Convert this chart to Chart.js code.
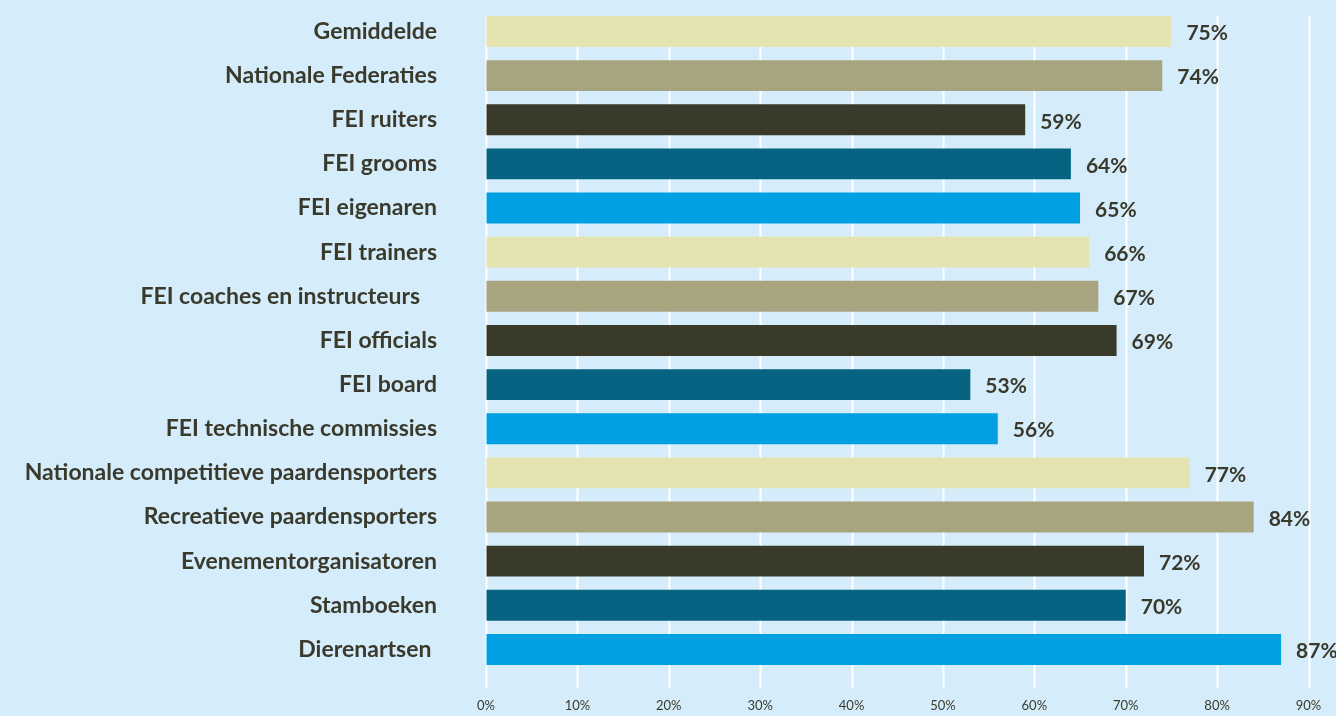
<!DOCTYPE html>
<html>
<head>
<meta charset="utf-8">
<script src="https://cdn.jsdelivr.net/npm/chart.js@4"></script>
<style>
  html, body { margin: 0; padding: 0; background: #d5ecfb; }
  canvas { display: block; }
</style>
</head>
<body>
<canvas id="chart" width="1336" height="716"></canvas>
<script>
// Data
const categories = [
  'Gemiddelde',
  'Nationale Federaties',
  'FEI ruiters',
  'FEI grooms',
  'FEI eigenaren',
  'FEI trainers',
  'FEI coaches en instructeurs   ',
  'FEI officials',
  'FEI board',
  'FEI technische commissies',
  'Nationale competitieve paardensporters',
  'Recreatieve paardensporters',
  'Evenementorganisatoren',
  'Stamboeken',
  'Dierenartsen '
];
const values = [75, 74, 59, 64, 65, 66, 67, 69, 53, 56, 77, 84, 72, 70, 87];
const xTicks = [0, 10, 20, 30, 40, 50, 60, 70, 80, 90];
const palette = ['#e6e3b2', '#a7a47f', '#3a3a2b', '#066482', '#00a0e3'];

const textColor = '#3a3a2c';
const labelFont = 'Lato';

// white vertical grid lines, from the first bar down past the axis
const gridPlugin = {
  id: 'grid',
  beforeDatasetsDraw(chart) {
    const { ctx, scales: { x }, chartArea } = chart;
    const bar = chart.getDatasetMeta(0).data[0];
    const top = bar.y - bar.height / 2;
    ctx.save();
    ctx.strokeStyle = '#ffffff';
    ctx.lineWidth = 2;
    xTicks.forEach(t => {
      const px = Math.round(x.getPixelForValue(t)) + 0.5;
      ctx.beginPath();
      ctx.moveTo(px, top);
      ctx.lineTo(px, chartArea.bottom + 17);
      ctx.stroke();
    });
    ctx.restore();
  }
};

// value labels at the end of each bar
const valueLabels = {
  id: 'valueLabels',
  afterDatasetsDraw(chart) {
    const { ctx } = chart;
    ctx.save();
    ctx.fillStyle = textColor;
    ctx.font = `bold 21px ${labelFont}`;
    ctx.textAlign = 'left';
    ctx.textBaseline = 'middle';
    chart.getDatasetMeta(0).data.forEach((bar, i) => {
      ctx.fillText(values[i] + '%', bar.x + 15, bar.y + 2);
    });
    ctx.restore();
  }
};

new Chart(document.getElementById('chart'), {
  type: 'bar',
  data: {
    labels: categories,
    datasets: [{
      data: values,
      backgroundColor: values.map((v, i) => palette[i % palette.length]),
      barPercentage: 0.7,
      categoryPercentage: 1
    }]
  },
  options: {
    indexAxis: 'y',
    responsive: false,
    animation: false,
    layout: { padding: { top: 9.4, bottom: 3, right: 27.5, left: 0 } },
    plugins: {
      legend: { display: false },
      tooltip: { enabled: false }
    },
    scales: {
      x: {
        min: 0,
        max: 90,
        border: { display: false },
        grid: { drawOnChartArea: false, drawTicks: true, tickLength: 17, color: 'rgba(0,0,0,0)' },
        afterBuildTicks: scale => { scale.ticks = xTicks.map(v => ({ value: v })); },
        afterFit: scale => { scale.height = 41.5; },
        ticks: {
          padding: 10,
          color: textColor,
          font: { family: labelFont, size: 13 },
          callback: v => v + '%'
        }
      },
      y: {
        border: { display: false },
        grid: { display: false, drawTicks: false },
        afterFit: scale => {
          scale.width = 486;
          scale.paddingTop = 0;
          scale.paddingBottom = 0;
        },
        ticks: {
          padding: 49,
          color: textColor,
          font: { family: labelFont, size: 23, weight: 'bold' }
        }
      }
    }
  },
  plugins: [gridPlugin, valueLabels]
});
</script>
</body>
</html>
